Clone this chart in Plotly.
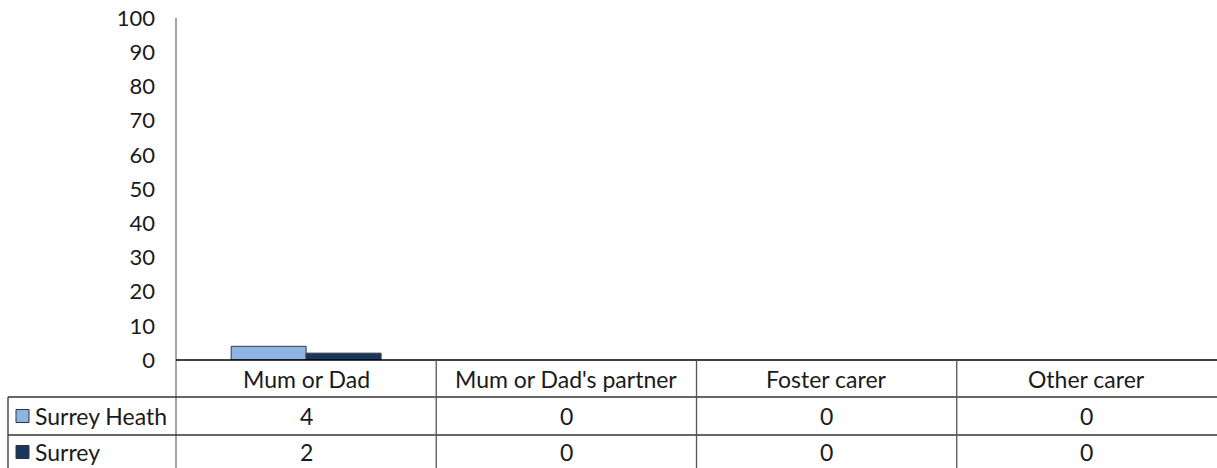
import plotly.graph_objects as go

# ---- data ----
categories = ["Mum or Dad", "Mum or Dad's partner", "Foster carer", "Other carer"]
series_names = ["Surrey Heath", "Surrey"]
surrey_heath = [4, 0, 0, 0]
surrey = [2, 0, 0, 0]
y_tick_values = [0, 10, 20, 30, 40, 50, 60, 70, 80, 90, 100]

# ---- style / layout constants ----
W, H = 1217, 468
colors = ["#8DB4E2", "#17375E"]
FONT = "Lato"
FS = 23
FS_TICK = 22
TXT = "#1a1a1a"

def px(x):
    return x / W

def py(y):
    return 1 - y / H

plot_left, plot_right = 176, 1217
zero_y, top_y = 360, 18
row_lines = [397, 435]
row_centers = [379, 416, 452]
table_left = 8

fig = go.Figure()
series_values = [surrey_heath, surrey]
for name, vals, col in zip(series_names, series_values, colors):
    fig.add_trace(go.Bar(
        x=categories, y=vals, name=name,
        marker=dict(color=col,
                    line=dict(color="#3a3a3a", width=[1 if v else 0 for v in vals])),
        showlegend=False,
    ))

shapes = []
# vertical axis line (extends through table)
shapes.append(dict(type="line", xref="paper", yref="paper",
                   x0=px(plot_left), x1=px(plot_left), y0=py(top_y), y1=0,
                   line=dict(color="#868686", width=1.5)))
# zero line
shapes.append(dict(type="line", xref="paper", yref="paper",
                   x0=px(plot_left), x1=1, y0=py(zero_y), y1=py(zero_y),
                   line=dict(color="#000000", width=1.3)))
# table horizontal lines
for ry in row_lines:
    shapes.append(dict(type="line", xref="paper", yref="paper",
                       x0=px(table_left), x1=1, y0=py(ry), y1=py(ry),
                       line=dict(color="#333333", width=1.3)))
# table left border
shapes.append(dict(type="line", xref="paper", yref="paper",
                   x0=px(table_left), x1=px(table_left), y0=py(row_lines[0]), y1=0,
                   line=dict(color="#333333", width=1.3)))
# column separators (between categories)
for i in range(1, len(categories)):
    shapes.append(dict(type="line", xref="x", yref="paper",
                       x0=i - 0.5, x1=i - 0.5, y0=py(zero_y), y1=0,
                       line=dict(color="#555555", width=1.3)))

annotations = []
# header row
for c in categories:
    annotations.append(dict(x=c, y=py(row_centers[0]), xref="x", yref="paper",
                            text=c, showarrow=False, xanchor="center", yanchor="middle",
                            font=dict(family=FONT, size=FS, color=TXT)))
# data rows
for r, (name, vals, col) in enumerate(zip(series_names, series_values, colors)):
    cy = row_centers[r + 1]
    for c, v in zip(categories, vals):
        annotations.append(dict(x=c, y=py(cy), xref="x", yref="paper",
                                text=str(v), showarrow=False, xanchor="center", yanchor="middle",
                                font=dict(family=FONT, size=FS, color=TXT)))
    # legend key
    shapes.append(dict(type="rect", xref="paper", yref="paper",
                       x0=px(16), x1=px(29), y0=py(cy - 6.5), y1=py(cy + 6.5),
                       fillcolor=col, line=dict(color="#333333", width=1)))
    annotations.append(dict(x=px(33), y=py(cy), xref="paper", yref="paper",
                            text=name, showarrow=False, xanchor="left", yanchor="middle",
                            font=dict(family=FONT, size=FS, color=TXT)))

fig.update_layout(
    width=W, height=H,
    margin=dict(l=0, r=0, t=0, b=0, pad=0),
    paper_bgcolor="white", plot_bgcolor="white",
    barmode="group", bargap=0.424, bargroupgap=0,
    font=dict(family=FONT, size=FS, color=TXT),
    hovermode=False,
    xaxis=dict(domain=[px(plot_left), 1], range=[-0.5, len(categories) - 0.5],
               showticklabels=False, showgrid=False, zeroline=False, showline=False,
               fixedrange=True, automargin=False),
    yaxis=dict(domain=[py(zero_y), py(top_y)], range=[0, 100],
               tickvals=y_tick_values, ticktext=[str(v) for v in y_tick_values],
               showgrid=False, zeroline=False, showline=False, ticks="",
               ticklabelstandoff=20, automargin=False,
               tickfont=dict(family=FONT, size=FS_TICK, color=TXT), fixedrange=True),
    shapes=shapes, annotations=annotations,
)

fig.write_html("out.html",
               config={"displayModeBar": False, "staticPlot": True},
               post_script="document.body.style.margin='0';document.body.style.overflow='hidden';")
